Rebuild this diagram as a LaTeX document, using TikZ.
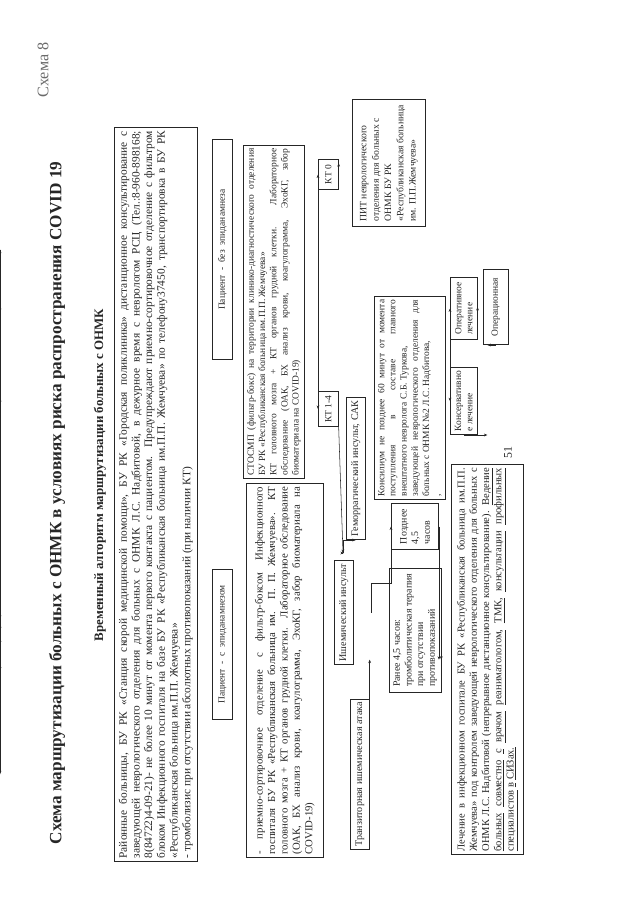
\documentclass[tikz,border=0pt]{standalone}
\usepackage{fontspec}
\setmainfont{Liberation Serif}
\usetikzlibrary{arrows.meta,positioning,calc}
\definecolor{inkgrey}{HTML}{262626}
\definecolor{pagegrey}{HTML}{6A6A6A}
\newcommand{\ulw}[1]{\underline{#1}}

\tikzset{
  plate/.style={draw=inkgrey,line width=0.6pt,anchor=north west,inner xsep=3pt,inner ysep=2pt},
  bigtext/.style={font=\fontsize{10.6}{11.8}\selectfont},
  boxtext/.style={font=\fontsize{9.4}{11}\selectfont},
  smalltext/.style={font=\fontsize{8.8}{10.4}\selectfont},
  arr/.style={draw=inkgrey,line width=0.5pt,-{Stealth[length=3.2pt,width=2.6pt]}},
  link/.style={draw=inkgrey,line width=0.5pt}
}

\begin{document}
\begin{tikzpicture}[x=0.93pt,y=0.93pt]
\begin{scope}[rotate=90,transform shape,color=inkgrey]
  \useasboundingbox (0,0) rectangle (905,-640);
  % headings
  \node[text=pagegrey,font=\fontsize{15}{17}\selectfont] (schemeno) at (835,-43) {Схема 8};
  \node[font=\bfseries\fontsize{16}{19}\selectfont] (title) at (402,-57)
    {Схема маршрутизации больных с ОНМК в условиях риска распространения COVID 19};
  \node[font=\bfseries\fontsize{12}{14}\selectfont] (subtitle) at (430,-100)
    {Временный алгоритм маршрутизации больных с ОНМК};
  % first contact
  \node[plate,bigtext,align=justify,text width=676.6pt,minimum width=682.6pt,minimum height=77pt] (topbox) at (43,-114)
    {Районные больницы, БУ РК «Станция скорой медицинской помощи», БУ РК «Городская поликлиника» дистанционное консультирование с\linebreak
     заведующей неврологического отделения для больных с ОНМК Л.С. Надбитовой, в дежурное время с неврологом РСЦ (Тел.:8-960-898168;\linebreak
     8(84722)4-09-21)- не более 10 минут от момента первого контакта с пациентом. Предупреждают приемно-сортировочное отделение с фильтром\linebreak
     блоком Инфекционного госпиталя на базе БУ РК «Республиканская больница им.П.П. Жемчуева» по телефону37450, транспортировка в БУ РК\linebreak
     «Республиканская больница им.П.П. Жемчуева»\\
     - тромболизис при отсутствии абсолютных противопоказаний (при наличии КТ)};
  \node[plate,smalltext,minimum width=140pt,minimum height=18.6pt] (pacS) at (185,-212) {Пациент\ \ -\ \ с\ \ эпиданамнезом};
  \node[plate,smalltext,minimum width=204.6pt,minimum height=18.6pt] (pacB) at (545,-212) {Пациент\ \ -\ \ без\ \ эпиданамнеза};
  % left branch
  \node[plate,font=\fontsize{10}{11.6}\selectfont,align=justify,text width=342pt,minimum width=348pt,minimum height=71.6pt] (leftbox) at (47,-246)
    {- приемно-сортировочное отделение с фильтр-боксом Инфекционного\linebreak
     госпиталя БУ РК «Республиканская больница им. П. П. Жемчуева». КТ\linebreak
     головного мозга + КТ органов грудной клетки. Лабораторное обследование\linebreak
     (ОАК, БХ анализ крови, коагулограмма, ЭхоКГ, забор биоматериала на\linebreak
     COVID-19)};
  \node[plate,boxtext,minimum width=139.5pt,minimum height=17.7pt] (tia) at (55,-350) {Транзиторная ишемическая атака};
  \node[plate,boxtext,minimum width=93pt,minimum height=17.7pt] (isch) at (240,-334) {Ишемический инсульт};
  \node[plate,font=\fontsize{9.2}{10.8}\selectfont,align=left,minimum width=116pt,minimum height=48pt] (early) at (212,-389)
    {Ранее 4,5 часов:\\ тромболитическая терапия\\ при отсутствии\\ противопоказаний};
  \node[plate,font=\fontsize{9.2}{10.8}\selectfont,align=left,minimum width=43pt,minimum height=44pt] (late) at (355,-391)
    {Позднее\\ 4,5\\ часов};
  % right branch
  \node[plate,smalltext,align=justify,text width=304pt,minimum width=310pt,minimum height=57pt] (stosmp) at (426,-243)
    {СТОСМП (фильтр-бокс) на территории клинико-диагностического отделения\linebreak
     БУ РК «Республиканская больница им.П.П. Жемчуева»\\
     КТ головного мозга + КТ органов грудной клетки. Лабораторное\linebreak
     обследование (ОАК, БХ анализ крови, коагулограмма, ЭхоКГ, забор\linebreak
     биоматериала на COVID-19)};
  \node[plate,smalltext,minimum width=33pt,minimum height=18.6pt] (kt14) at (478,-318) {КТ 1-4};
  \node[plate,smalltext,minimum width=28pt,minimum height=18.6pt] (kt0) at (715,-318) {КТ 0};
  \node[plate,font=\fontsize{9}{11.4}\selectfont,align=left,minimum width=118pt,minimum height=68pt] (pit) at (678,-352)
    {ПИТ неврологического\\ отделения для больных с\\ ОНМК БУ РК\\ «Республиканская больница\\ им. П.П.Жемчуева»};
  \node[plate,boxtext,minimum width=132pt,minimum height=17.7pt] (hem) at (365,-346) {Геморрагический инсульт, САК};
  \node[plate,smalltext,align=justify,text width=183pt,minimum width=189pt,minimum height=66pt] (council) at (405,-374)
    {Консилиум не позднее 60 минут от момента\linebreak
     поступления в составе главного\linebreak
     внештатного невролога С.Б. Туркова,\\
     заведующей неврологического отделения для\linebreak
     больных с ОНМК №2 Л.С. Надбитова,\\ ,};
  \node[plate,smalltext,align=left,minimum width=62pt,minimum height=25pt] (conserv) at (470,-450) {Консервативно\\ е лечение};
  \node[plate,smalltext,align=left,minimum width=58pt,minimum height=25pt] (operat) at (565,-450) {Оперативное\\ лечение};
  \node[plate,smalltext,minimum width=70pt,minimum height=23pt] (orroom) at (560,-483) {Операционная};
  % final treatment
  \node[plate,font=\fontsize{9.8}{11.4}\selectfont,align=justify,text width=356.7pt,minimum width=362.7pt,minimum height=67pt] (treat) at (50,-451)
    {Лечение в инфекционном госпитале БУ РК «Республиканская больница им.П.П.\linebreak
     Жемчуева» под контролем заведующей неврологического отделения для больных с\linebreak
     ОНМК Л.С. Надбитовой (непрерывное дистанционное консультирование). \ulw{Ведение}\linebreak
     \ulw{больных} \ulw{совместно} \ulw{с} \ulw{врачом} \ulw{реаниматологом,} \ulw{ТМК,} \ulw{консультации} \ulw{профильных}\linebreak
     \ulw{специалистов} \ulw{в} \ulw{СИЗах.}};
  \node[font=\fontsize{11}{13}\selectfont] (pageno) at (452,-508) {51};
  % connectors
  \coordinate (xS) at (285,0);
  \coordinate (xB) at (600,0);
  \coordinate (xT) at (130,0);
  \coordinate (xI) at (290,0);
  \coordinate (xC) at (430,0);
  \coordinate (fork) at (352,-343);
  \coordinate (split) at (322,-371);
  \draw[arr] (topbox.south |- xS) -- (pacS.north |- xS);
  \draw[arr] (pacS.south |- xS) -- (leftbox.north |- xS);
  \draw[arr] (topbox.south |- xB) -- (pacB.north |- xB);
  \draw[arr] (pacB.south |- xB) -- (stosmp.north |- xB);
  \draw[arr] (leftbox.south |- xT) -- (tia.north |- xT);
  \draw[arr] (leftbox.south |- xI) -- (isch.north |- xI);
  \draw[arr] (stosmp.south |- kt14.north) -- (kt14.north);
  \draw[arr] (stosmp.south |- kt0.north) -- (kt0.north);
  \draw[arr] (kt0.south) -- (pit.north |- kt0.south);
  \draw[arr] (kt14.south west) -- (fork);
  \draw[arr] (fork) -- (fork |- isch.east);
  \draw[arr] (fork) -| (hem.west);
  \draw[arr] (isch.south |- xI) -- (early.north |- xI);
  \draw[arr] (isch.south |- split) -- (split) |- (late.north);
  \draw[arr] (tia.south) -- (treat.north |- tia.south);
  \draw[arr] (early.south) -- (treat.north |- early.south);
  \draw[arr] (late.south) -- (treat.north |- late.south);
  \draw[arr] (hem.south |- xC) -- (council.north |- xC);
  \draw[arr] (council.south |- conserv.north) -- (conserv.north);
  \draw[arr] (council.south |- operat.north) -- (operat.north);
  \draw[arr] (operat.south) -- (orroom.north |- operat.south);
  \draw[arr] (conserv.west) -- (conserv.west |- treat.east);
  \draw[arr] (orroom.west) -- (orroom.west |- treat.east);
\end{scope}
\end{tikzpicture}
\end{document}
